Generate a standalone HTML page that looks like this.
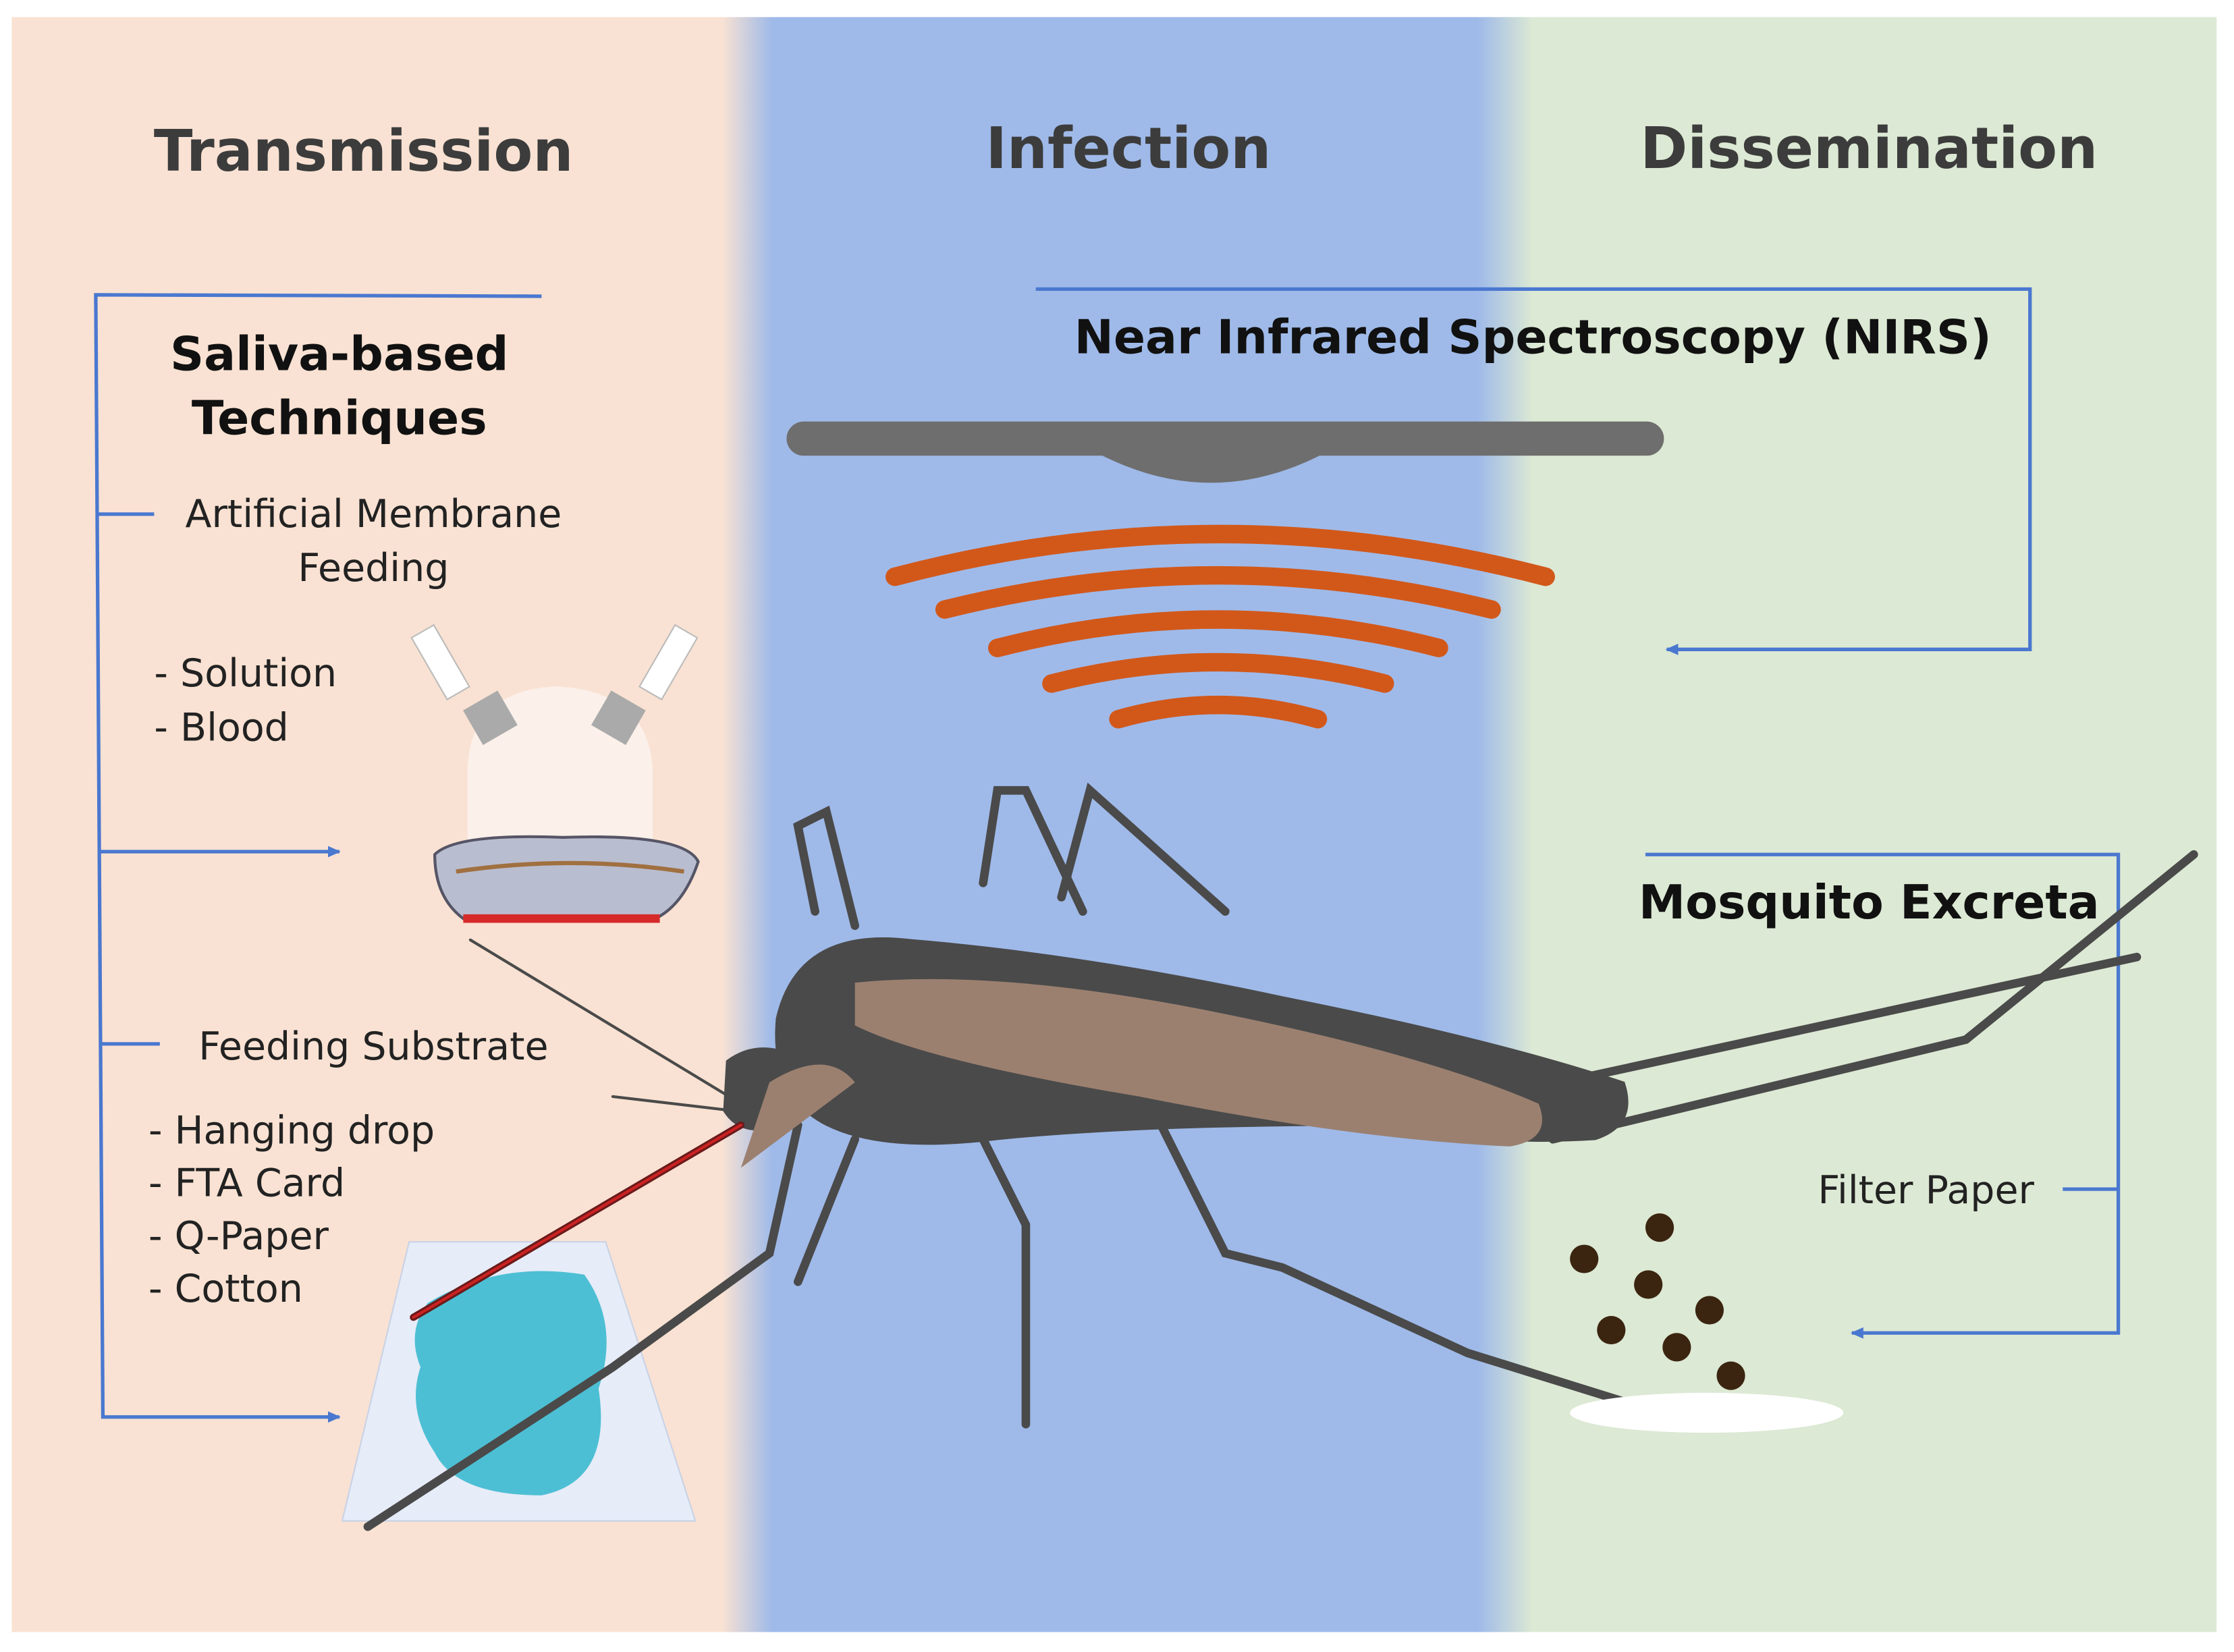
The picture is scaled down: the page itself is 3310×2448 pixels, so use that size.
<!DOCTYPE html>
<html><head><meta charset="utf-8">
<style>
html,body{margin:0;padding:0;background:#fff;}
svg{display:block;}
text{font-family:"DejaVu Sans","Liberation Sans",sans-serif;}
</style></head><body>
<svg width="3310" height="2448" viewBox="0 0 1568 1160" xmlns="http://www.w3.org/2000/svg">
<defs>
<linearGradient id="bg" x1="0" x2="1" y1="0" y2="0">
<stop offset="0" stop-color="#f9e2d3"/>
<stop offset="0.322" stop-color="#f9e2d3"/>
<stop offset="0.345" stop-color="#9fbae9"/>
<stop offset="0.665" stop-color="#9fbae9"/>
<stop offset="0.69" stop-color="#dce9d4"/>
<stop offset="1" stop-color="#dce9d4"/>
</linearGradient>
<marker id="ar" markerWidth="10" markerHeight="10" refX="8" refY="5" orient="auto" markerUnits="userSpaceOnUse">
<path d="M0,1 L9,5 L0,9 Z" fill="#4a78d0"/>
</marker>
</defs>
<rect x="8" y="12" width="1548" height="1134" fill="url(#bg)"/>

<text x="255" y="120" font-size="40" font-weight="bold" fill="#3c3c3c" text-anchor="middle">Transmission</text>
<text x="792" y="118" font-size="40" font-weight="bold" fill="#3c3c3c" text-anchor="middle">Infection</text>
<text x="1312" y="118" font-size="40" font-weight="bold" fill="#3c3c3c" text-anchor="middle">Dissemination</text>

<g stroke="#4a78d0" stroke-width="2.5" fill="none">
<polyline points="380,208 67,207 72,995 238,995" marker-end="url(#ar)"/>
<line x1="67" y1="361" x2="108" y2="361"/>
<line x1="69" y1="598" x2="238" y2="598" marker-end="url(#ar)"/>
<line x1="71" y1="733" x2="112" y2="733"/>
<polyline points="727,203 1425,203 1425,456 1170,456" marker-end="url(#ar)"/>
<polyline points="1155,600 1487,600 1487,936 1300,936" marker-end="url(#ar)"/>
<line x1="1448" y1="835" x2="1487" y2="835"/>
</g>

<g font-weight="bold" fill="#111" font-size="33">
<text x="238" y="260" text-anchor="middle">Saliva-based</text>
<text x="238" y="305" text-anchor="middle">Techniques</text>
<text x="1076" y="248" text-anchor="middle">Near Infrared  Spectroscopy (NIRS)</text>
<text x="1312" y="645" text-anchor="middle">Mosquito Excreta</text>
</g>
<g fill="#222" font-size="27">
<text x="262" y="370" text-anchor="middle">Artificial Membrane</text>
<text x="262" y="408" text-anchor="middle">Feeding</text>
<text x="108" y="482">- Solution</text>
<text x="108" y="520">- Blood</text>
<text x="262" y="744" text-anchor="middle">Feeding Substrate</text>
<text x="104" y="803">- Hanging drop</text>
<text x="104" y="840">- FTA Card</text>
<text x="104" y="877">- Q-Paper</text>
<text x="104" y="914">- Cotton</text>
<text x="1352" y="845" text-anchor="middle">Filter Paper</text>
</g>

<!-- lamp -->
<rect x="552" y="296" width="616" height="24" rx="12" fill="#6e6e6e"/>
<path d="M770,318 Q850,360 930,318 Z" fill="#6e6e6e"/>
<!-- waves -->
<g stroke="#d2581a" stroke-width="13" fill="none" stroke-linecap="round">
<path d="M628,405 Q855,345 1085,405"/>
<path d="M663,428 Q855,380 1047,428"/>
<path d="M700,455 Q855,415 1010,455"/>
<path d="M738,480 Q855,450 972,480"/>
<path d="M785,505 Q855,485 925,505"/>
</g>

<!-- membrane feeder -->
<path d="M328,620 L328,540 Q330,485 390,482 Q455,485 458,540 L458,620 Z" fill="#fbf0ea"/>
<rect x="300" y="440" width="18" height="50" fill="#fff" stroke="#bbb" transform="rotate(-30 309 465)"/>
<rect x="460" y="440" width="18" height="50" fill="#fff" stroke="#bbb" transform="rotate(30 469 465)"/>
<rect x="330" y="490" width="28" height="28" fill="#aaa" transform="rotate(-30 344 504)"/>
<rect x="420" y="490" width="28" height="28" fill="#aaa" transform="rotate(30 434 504)"/>
<path d="M305,600 Q320,585 395,588 Q480,585 490,605 Q480,635 460,645 L325,645 Q305,630 305,600 Z" fill="#b9bdd0" stroke="#556" stroke-width="2"/>
<rect x="325" y="642" width="138" height="6" fill="#d62a2a"/>
<path d="M320,612 Q400,600 480,612" stroke="#a07040" stroke-width="3" fill="none"/>

<!-- substrate -->
<path d="M287,872 L425,872 L488,1068 L240,1068 Z" fill="#e6ecf8" stroke="#c9d2e6"/>
<path d="M300,915 Q350,885 410,895 Q435,930 420,975 Q430,1040 380,1050 Q320,1050 305,1020 Q285,990 295,960 Q285,935 300,915 Z" fill="#4dbfd4"/>

<!-- mosquito -->
<g fill="#4a4a4a" stroke="#4a4a4a" stroke-linecap="round">
<g fill="none" stroke-width="6">
<path d="M572,640 L560,580 L580,570 L600,650"/>
<path d="M690,620 L700,555 L720,555 L760,640"/>
<path d="M745,630 L765,555 L860,640"/>
<path d="M690,800 L720,860 L720,1000"/>
<path d="M800,760 L860,880 L900,890 L1030,950 L1165,992"/>
<path d="M1090,800 L1380,730 L1540,600"/>
<path d="M1050,770 L1500,672"/>
<path d="M560,790 L540,880 L430,960 L258,1072"/>
<path d="M600,800 L560,900"/>
</g>
<path d="M545,715 Q560,650 640,660 Q760,670 900,700 Q1050,730 1140,760 Q1150,790 1120,800 Q1040,805 960,790 Q800,790 700,800 Q620,810 580,790 Q540,770 545,715 Z"/>
<path d="M510,745 Q530,730 555,740 Q570,770 550,790 Q520,800 508,780 Z"/>
<path d="M600,690 Q700,680 850,710 Q1000,740 1080,775 Q1090,800 1060,805 Q950,800 800,770 Q650,745 600,720 Z" fill="#9b8070" stroke="none"/>
<path d="M540,760 Q580,735 600,760 L520,820 Z" fill="#9b8070" stroke="none"/>
<line x1="520" y1="790" x2="290" y2="925" stroke-width="5" stroke="#6b1a1a"/>
<line x1="520" y1="790" x2="290" y2="925" stroke-width="2" stroke="#c22"/>
<line x1="520" y1="775" x2="330" y2="660" stroke-width="2"/>
<line x1="515" y1="780" x2="430" y2="770" stroke-width="2"/>
</g>

<!-- excreta -->
<ellipse cx="1198" cy="992" rx="96" ry="14" fill="#fff"/>
<g fill="#3b2510">
<circle cx="1165" cy="862" r="10"/><circle cx="1112" cy="884" r="10"/>
<circle cx="1157" cy="902" r="10"/><circle cx="1200" cy="920" r="10"/>
<circle cx="1131" cy="934" r="10"/><circle cx="1177" cy="946" r="10"/>
<circle cx="1215" cy="966" r="10"/>
</g>
</svg>
</body></html>
